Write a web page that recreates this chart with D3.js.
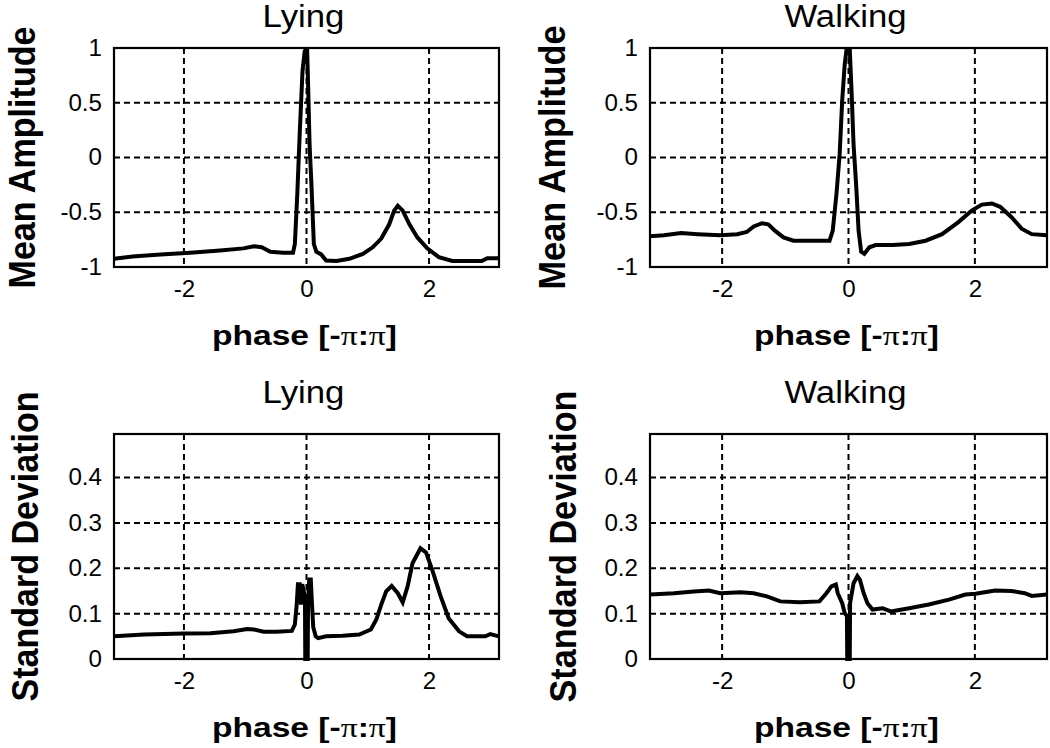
<!DOCTYPE html>
<html>
<head>
<meta charset="utf-8">
<script src="https://cdn.jsdelivr.net/npm/d3@7"></script>
<style>
  body { margin: 0; background: #fff; }
  svg { display: block; }
  text { font-family: "Liberation Sans", Arial, Helvetica, sans-serif; fill: #000; }
</style>
</head>
<body>
<div id="chart"></div>
<script>
// phase values (x) and curves
var lyingMeanPhase = [-3.14, -2.84, -2.38, -1.90, -1.41, -1.03, -0.86, -0.73, -0.59, -0.38, -0.22, -0.19, -0.15, -0.11, -0.065, -0.03, 0.01, 0.03, 0.05, 0.08, 0.12, 0.16, 0.24, 0.32, 0.49, 0.70, 0.92, 1.08, 1.22, 1.35, 1.43, 1.49, 1.57, 1.68, 1.81, 1.97, 2.16, 2.38, 2.65, 2.86, 2.95, 3.14];
var lyingMean = [-0.925, -0.905, -0.885, -0.87, -0.85, -0.83, -0.81, -0.82, -0.86, -0.87, -0.87, -0.79, -0.33, 0.23, 0.79, 0.97, 1.0, 0.58, 0.12, -0.24, -0.79, -0.86, -0.885, -0.94, -0.945, -0.925, -0.88, -0.82, -0.74, -0.61, -0.485, -0.44, -0.485, -0.61, -0.73, -0.83, -0.91, -0.945, -0.945, -0.945, -0.92, -0.92];

var walkingMeanPhase = [-3.14, -2.92, -2.65, -2.39, -2.03, -1.76, -1.61, -1.50, -1.37, -1.27, -1.16, -1.03, -0.87, -0.61, -0.40, -0.30, -0.25, -0.19, -0.14, -0.10, -0.06, -0.03, 0.02, 0.05, 0.08, 0.12, 0.16, 0.20, 0.25, 0.33, 0.43, 0.70, 0.96, 1.22, 1.48, 1.74, 1.95, 2.11, 2.27, 2.40, 2.58, 2.74, 2.90, 3.14];
var walkingMean = [-0.72, -0.71, -0.69, -0.70, -0.71, -0.70, -0.68, -0.63, -0.60, -0.61, -0.67, -0.73, -0.76, -0.76, -0.76, -0.76, -0.67, -0.33, 0.03, 0.52, 0.85, 0.99, 0.99, 0.58, 0.12, -0.24, -0.67, -0.86, -0.88, -0.82, -0.80, -0.80, -0.79, -0.76, -0.70, -0.59, -0.485, -0.43, -0.42, -0.45, -0.545, -0.65, -0.70, -0.71];

var lyingSdPhase = [-3.14, -2.65, -2.0, -1.57, -1.19, -0.97, -0.86, -0.70, -0.49, -0.24, -0.19, -0.16, -0.14, -0.11, -0.09, -0.07, -0.045, -0.025, -0.02, 0.02, 0.025, 0.045, 0.07, 0.09, 0.11, 0.15, 0.19, 0.32, 0.59, 0.86, 1.05, 1.14, 1.22, 1.30, 1.39, 1.49, 1.57, 1.65, 1.73, 1.86, 1.95, 2.05, 2.19, 2.32, 2.49, 2.62, 2.92, 3.0, 3.14];
var lyingSd = [0.050, 0.054, 0.056, 0.057, 0.061, 0.066, 0.065, 0.060, 0.060, 0.062, 0.076, 0.12, 0.165, 0.165, 0.12, 0.165, 0.15, 0.13, 0.0, 0.0, 0.13, 0.175, 0.175, 0.12, 0.07, 0.05, 0.046, 0.050, 0.051, 0.054, 0.065, 0.087, 0.120, 0.149, 0.161, 0.145, 0.125, 0.160, 0.211, 0.244, 0.235, 0.197, 0.138, 0.090, 0.061, 0.050, 0.050, 0.055, 0.050];

var walkingSdPhase = [-3.14, -2.76, -2.45, -2.21, -2.03, -1.71, -1.50, -1.29, -1.08, -0.77, -0.46, -0.35, -0.27, -0.20, -0.17, -0.10, -0.06, -0.025, -0.02, 0.02, 0.025, 0.08, 0.14, 0.18, 0.24, 0.30, 0.38, 0.54, 0.67, 0.96, 1.27, 1.59, 1.85, 2.01, 2.32, 2.58, 2.79, 2.90, 3.14];
var walkingSd = [0.142, 0.145, 0.149, 0.151, 0.145, 0.147, 0.145, 0.138, 0.127, 0.125, 0.127, 0.145, 0.160, 0.164, 0.145, 0.123, 0.101, 0.095, 0, 0, 0.123, 0.167, 0.183, 0.175, 0.145, 0.123, 0.109, 0.112, 0.105, 0.112, 0.120, 0.131, 0.142, 0.144, 0.151, 0.150, 0.145, 0.139, 0.142];

// tick labels
var phaseTicks = [-2, 0, 2];
var meanTicks = [-1, -0.5, 0, 0.5, 1];
var sdTicks = [0, 0.1, 0.2, 0.3, 0.4];

var width = 1050;
var height = 748;

var svg = d3.select('#chart')
    .append('svg')
    .attr('width', width)
    .attr('height', height);

// stretch text horizontally (the figure was scaled wider than tall)
function stretch(sel, k) {
    sel.each(function () {
        var w = this.getComputedTextLength();
        d3.select(this)
            .attr('textLength', w * k)
            .attr('lengthAdjust', 'spacingAndGlyphs');
    });
}

var panels = [
    { title: 'Lying', ylab: 'Mean Amplitude', x0: 114, x1: 499, y0: 48, y1: 267,
      phase: lyingMeanPhase, vals: lyingMean, ydom: [-1, 1], yticks: meanTicks,
      titleY: 27, ylabX: 35, ylabLen: 262 },
    { title: 'Walking', ylab: 'Mean Amplitude', x0: 650, x1: 1047, y0: 48, y1: 267,
      phase: walkingMeanPhase, vals: walkingMean, ydom: [-1, 1], yticks: meanTicks,
      titleY: 27, ylabX: 565, ylabLen: 264 },
    { title: 'Lying', ylab: 'Standard Deviation', x0: 114, x1: 499, y0: 434, y1: 659,
      phase: lyingSdPhase, vals: lyingSd, ydom: [0, 0.496], yticks: sdTicks,
      titleY: 403, ylabX: 38, ylabLen: 310 },
    { title: 'Walking', ylab: 'Standard Deviation', x0: 650, x1: 1047, y0: 434, y1: 659,
      phase: walkingSdPhase, vals: walkingSd, ydom: [0, 0.496], yticks: sdTicks,
      titleY: 403, ylabX: 576, ylabLen: 312 }
];

panels.forEach(function (p) {
    var xscale = d3.scaleLinear()
        .domain([-Math.PI, Math.PI])
        .range([p.x0, p.x1]);
    var yscale = d3.scaleLinear()
        .domain(p.ydom)
        .range([p.y1, p.y0]);

    var g = svg.append('g');

    // dashed grid
    g.selectAll('.vgrid')
        .data(phaseTicks)
        .enter()
        .append('line')
        .attr('x1', d => xscale(d))
        .attr('x2', d => xscale(d))
        .attr('y1', p.y0)
        .attr('y2', p.y1)
        .attr('stroke', '#000')
        .attr('stroke-width', 2)
        .attr('stroke-dasharray', '6,4');

    g.selectAll('.hgrid')
        .data(p.yticks.filter(d => d > p.ydom[0] && d < p.ydom[1] - 0.01))
        .enter()
        .append('line')
        .attr('x1', p.x0)
        .attr('x2', p.x1)
        .attr('y1', d => yscale(d))
        .attr('y2', d => yscale(d))
        .attr('stroke', '#000')
        .attr('stroke-width', 2)
        .attr('stroke-dasharray', '6,4');

    // the curve
    var pts = p.phase.map(function (x, i) { return [x, p.vals[i]]; });
    var line = d3.line()
        .x(d => xscale(d[0]))
        .y(d => yscale(d[1]));
    g.append('path')
        .datum(pts)
        .attr('d', line)
        .attr('fill', 'none')
        .attr('stroke', '#000')
        .attr('stroke-width', 4)
        .attr('stroke-linejoin', 'miter')
        .attr('stroke-miterlimit', 3);

    // box
    g.append('rect')
        .attr('x', p.x0)
        .attr('y', p.y0)
        .attr('width', p.x1 - p.x0)
        .attr('height', p.y1 - p.y0)
        .attr('fill', 'none')
        .attr('stroke', '#000')
        .attr('stroke-width', 2.2);

    // axes (labels only)
    var xaxis = d3.axisBottom(xscale)
        .tickValues(phaseTicks)
        .tickSize(0)
        .tickPadding(14)
        .tickFormat(d => String(d));
    var yaxis = d3.axisLeft(yscale)
        .tickValues(p.yticks)
        .tickSize(0)
        .tickPadding(12)
        .tickFormat(d => String(d));

    var gx = g.append('g')
        .attr('transform', 'translate(0,' + p.y1 + ')')
        .call(xaxis);
    var gy = g.append('g')
        .attr('transform', 'translate(' + p.x0 + ',0)')
        .call(yaxis);
    [gx, gy].forEach(function (a) {
        a.select('.domain').remove();
        a.attr('font-family', null).attr('font-size', 23);
        stretch(a.selectAll('text'), 1.05);
    });

    var cx = (p.x0 + p.x1) / 2;

    // title
    var t = g.append('text')
        .attr('x', cx - 3)
        .attr('y', p.titleY)
        .attr('text-anchor', 'middle')
        .attr('font-size', 31)
        .text(p.title);
    stretch(t, 1.12);

    // x label
    var xl = g.append('text')
        .attr('x', cx - 2)
        .attr('y', p.y1 + 78)
        .attr('text-anchor', 'middle')
        .attr('font-size', 28)
        .attr('font-weight', 'bold');
    xl.append('tspan').text('phase [-');
    xl.append('tspan').attr('font-family', '"Liberation Serif", "Times New Roman", serif').attr('font-weight', 'normal').text('\u03c0');
    xl.append('tspan').text(':');
    xl.append('tspan').attr('font-family', '"Liberation Serif", "Times New Roman", serif').attr('font-weight', 'normal').text('\u03c0');
    xl.append('tspan').text(']');
    xl.attr('textLength', 185).attr('lengthAdjust', 'spacingAndGlyphs');

    // y label
    g.append('text')
        .attr('transform', 'translate(' + p.ylabX + ',' + ((p.y0 + p.y1) / 2) + ') rotate(-90)')
        .attr('text-anchor', 'middle')
        .attr('font-size', 37)
        .attr('font-weight', 'bold')
        .attr('textLength', p.ylabLen)
        .attr('lengthAdjust', 'spacingAndGlyphs')
        .text(p.ylab);
});
</script>
</body>
</html>
